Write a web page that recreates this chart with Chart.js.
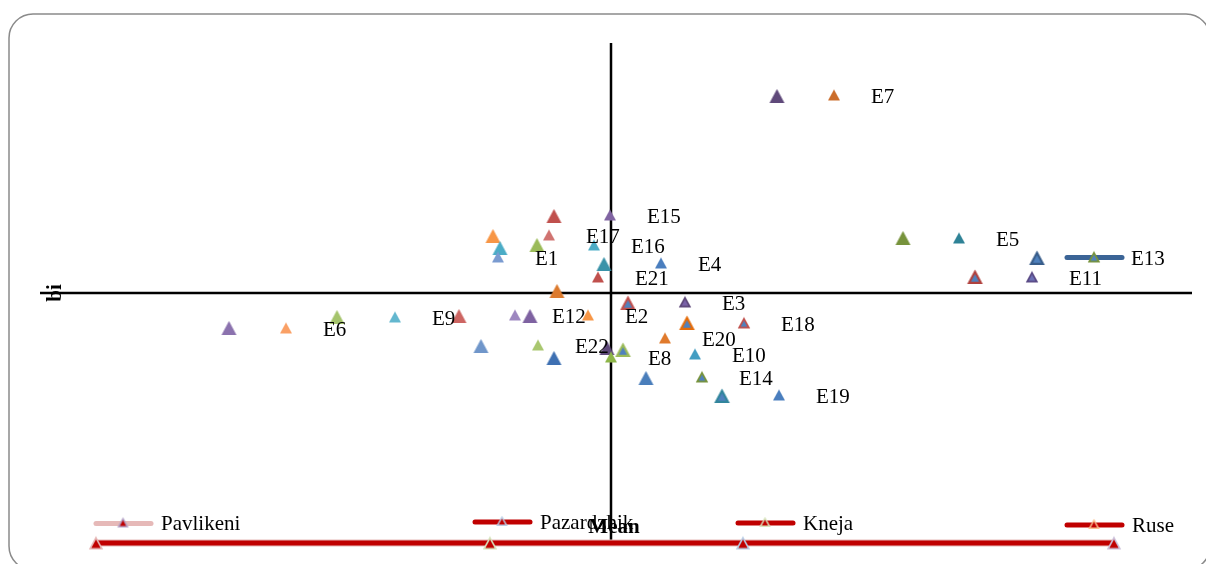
<!DOCTYPE html>
<html>
<head>
<meta charset="utf-8">
<script src="https://cdn.jsdelivr.net/npm/chart.js@4.4.0/dist/chart.umd.min.js"></script>
<style>
  html, body { margin: 0; padding: 0; background: #fff; overflow: hidden; }
  canvas { display: block; }
</style>
</head>
<body>
<canvas id="stability" width="1206" height="564"></canvas>
<script>
// Genotypes
const genotypes = ['E1','E2','E3','E4','E5','E6','E7','E8','E9','E10','E11',
                   'E12','E13','E14','E15','E16','E17','E18','E19','E20','E21','E22'];

// First set: genotype mean (kg/da) and regression coefficient bi
const meanA = [529, 574, 622.5, 610.5, 759.5, 423, 697, 585.5, 477.5, 627.5, 796,
               537.5, 827, 631, 585, 577, 554.5, 652, 669.5, 612.5, 579, 549];
const biA   = [1.18, 0.89, 0.955, 1.15, 1.275, 0.825, 1.99, 0.68, 0.88, 0.695, 1.08,
               0.89, 1.18, 0.58, 1.39, 1.24, 1.29, 0.85, 0.49, 0.775, 1.08, 0.74];

// Second set: genotype mean (kg/da) and regression coefficient bi
const meanB = [668.5, 557, 526.5, 530, 548.5, 582, 558.5, 731.5, 798.5, 767.5, 394.5,
               448.5, 509.5, 545, 520.5, 557, 583.5, 594, 623.5, 591.5, 603, 641];
const biB   = [1.985, 1.385, 1.285, 1.225, 1.24, 1.145, 1.01, 1.275, 1.175, 1.08, 0.825,
               0.88, 0.885, 0.885, 0.735, 0.675, 0.725, 0.95, 0.85, 0.715, 0.575, 0.485];

// Locations with their environment means
const locations    = ['Pavlikeni', 'Pazardzhik', 'Kneja', 'Ruse'];
const locationMean = [328, 525, 651.5, 837];
const locationBi   = [-0.25, -0.25, -0.25, -0.25];

// Reference lines: grand mean and bi = 1
const grandMean = 585.5;
const biRef = 1;

// ---- marker styles ----
const fillA = ['#7A9BD0','#F79646','#7A62A8','#4A7EBE','#2E8296','#FAA065','#CB6D2B','#8DB548',
               '#63B7CF','#439DC2','#6C70B5','#9D87C0','#4F81BD','#4F81BD','#8064A2','#4BACC6',
               '#D07370','#4F81BD','#4A7EBE','#E07A2C','#C0504D','#A9C76F'];
const edgeA = [null,null,'#5F497A',null,null,null,null,null,
               null,null,'#5A4A85',null,'#77933C','#77933C',null,null,
               null,'#C0504D',null,null,null,null];
const fillB = ['#5F497A','#C0504D','#F79646','#4BACC6','#9BBB59','#3A92A8','#DC7A2E','#77933C',
               '#4F81BD','#4F81BD','#8B72AE','#A5C46C','#CD6562','#7E62A1','#7096CA','#3E70B2',
               '#5F497A','#4F81BD','#4F81BD','#4F81BD','#4A7EBB','#4F81BD'];
const edgeB = [null,null,null,null,null,null,null,null,
               '#385D8A','#B0413E',null,null,null,null,null,null,
               null,'#C0504D','#E46C0A','#9BBB59',null,'#31859C'];
const locEdge = ['#E6B9B8', '#D7E4BD', '#B9CDE5', '#CCC1DA'];
const legendEdge = ['#B3A2C7', '#B9CDE5', '#D7E4BD', '#FAC090'];

function triangle(fill, edge, w, h, lw) {
  const pad = 3;
  const c = document.createElement('canvas');
  c.width = w + pad * 2;
  c.height = h + pad * 2;
  const g = c.getContext('2d');
  const i = edge ? lw / 2 : 0;
  g.beginPath();
  g.moveTo(c.width / 2, pad + i * 1.6);
  g.lineTo(pad + w - i * 1.4, pad + h - i);
  g.lineTo(pad + i * 1.4, pad + h - i);
  g.closePath();
  g.fillStyle = fill;
  g.fill();
  if (edge) {
    g.lineWidth = lw;
    g.strokeStyle = edge;
    g.stroke();
  }
  return c;
}

const stylesA = fillA.map((f, i) => triangle(f, edgeA[i], 12, 11, 1.8));
const stylesB = fillB.map((f, i) => triangle(f, edgeB[i], 15, 14, 2.2));
const stylesLoc = locEdge.map(e => triangle('#C00000', e, 14, 13, 1.6));

const FONT = '"Liberation Serif", "Times New Roman", serif';

// frame, reference lines and the odd swatch under E13
const backdrop = {
  id: 'backdrop',
  beforeDraw(chart) {
    const g = chart.ctx;
    g.save();
    g.fillStyle = '#fff';
    g.fillRect(0, 0, chart.width, chart.height);
    const x = 9, y = 14, w = 1201, h = 556, r = 24;
    g.beginPath();
    g.moveTo(x + r, y);
    g.arcTo(x + w, y, x + w, y + h, r);
    g.arcTo(x + w, y + h, x, y + h, r);
    g.arcTo(x, y + h, x, y, r);
    g.arcTo(x, y, x + w, y, r);
    g.closePath();
    g.strokeStyle = '#8a8a8a';
    g.lineWidth = 1.5;
    g.stroke();
    g.restore();
  },
  beforeDatasetsDraw(chart) {
    const g = chart.ctx;
    const sx = chart.scales.x, sy = chart.scales.y;
    g.save();
    g.strokeStyle = '#000';
    g.lineWidth = 2.5;
    g.beginPath();
    const yb = sy.getPixelForValue(biRef);
    g.moveTo(sx.left, yb);
    g.lineTo(sx.right, yb);
    const xm = sx.getPixelForValue(grandMean);
    g.moveTo(xm, sy.top);
    g.lineTo(xm, sy.getPixelForValue(locationBi[0]));
    g.stroke();

    // swatch line sitting behind E13
    const k = genotypes.indexOf('E13');
    const p = chart.getDatasetMeta(0).data[k];
    g.strokeStyle = '#3B6496';
    g.lineWidth = 5;
    g.lineCap = 'round';
    g.beginPath();
    g.moveTo(p.x - 27, p.y + 0.5);
    g.lineTo(p.x + 28, p.y + 0.5);
    g.stroke();
    g.restore();
  },
  afterDatasetsDraw(chart) {
    const g = chart.ctx;
    g.save();
    g.fillStyle = '#000';
    g.font = '21px ' + FONT;
    g.textAlign = 'left';
    g.textBaseline = 'middle';
    const pts = chart.getDatasetMeta(0).data;
    genotypes.forEach((name, i) => {
      g.fillText(name, pts[i].x + 37, pts[i].y + 2);
    });

    // legend
    const slots = [
      { x: 96, y: 523.5, line: '#E6B9B8' },
      { x: 475, y: 522, line: '#C00000' },
      { x: 738, y: 523, line: '#C00000' },
      { x: 1067, y: 525, line: '#C00000' }
    ];
    locations.forEach((name, i) => {
      const s = slots[i];
      g.strokeStyle = s.line;
      g.lineWidth = 5;
      g.lineCap = 'round';
      g.beginPath();
      g.moveTo(s.x, s.y);
      g.lineTo(s.x + 55, s.y);
      g.stroke();
      const m = triangle('#C00000', legendEdge[i], 11, 10, 1.4);
      g.drawImage(m, s.x + 27 - m.width / 2, s.y - 1 - m.height / 2);
      g.fillStyle = '#000';
      g.fillText(name, s.x + 65, s.y + 1);
    });

    // axis titles
    g.font = 'bold 21px ' + FONT;
    g.textAlign = 'center';
    const sx = chart.scales.x;
    g.fillText('Mean', sx.getPixelForValue(grandMean) + 3, 528);
    g.translate(56, chart.scales.y.getPixelForValue(biRef));
    g.rotate(-Math.PI / 2);
    g.fillText('bi', 0, 0);
    g.restore();
  }
};

new Chart(document.getElementById('stability'), {
  type: 'scatter',
  data: {
    datasets: [
      {
        label: 'set A',
        data: meanA.map((m, i) => ({ x: m, y: biA[i] })),
        pointStyle: stylesA,
        pointRadius: 6,
        order: 1,
        clip: false
      },
      {
        label: 'set B',
        data: meanB.map((m, i) => ({ x: m, y: biB[i] })),
        pointStyle: stylesB,
        pointRadius: 7,
        order: 2,
        clip: false
      },
      {
        label: 'Locations',
        data: locationMean.map((m, i) => ({ x: m, y: locationBi[i] })),
        showLine: true,
        borderColor: '#C00000',
        borderWidth: 5,
        pointStyle: stylesLoc,
        pointRadius: 6,
        order: 3,
        clip: false
      },
      {
        label: 'Locations edge',
        data: locationMean.map((m, i) => ({ x: m, y: locationBi[i] })),
        showLine: true,
        borderColor: '#E6B9B8',
        borderWidth: 7,
        pointRadius: 0,
        order: 4,
        clip: false
      }
    ]
  },
  options: {
    responsive: false,
    animation: false,
    events: [],
    layout: { padding: { left: 40, right: 14, top: 43, bottom: 19 } },
    plugins: { legend: { display: false }, tooltip: { enabled: false } },
    scales: {
      x: { type: 'linear', min: 300, max: 876, display: false },
      y: { type: 'linear', min: -0.26, max: 2.25, display: false }
    }
  },
  plugins: [backdrop]
});
</script>
</body>
</html>
